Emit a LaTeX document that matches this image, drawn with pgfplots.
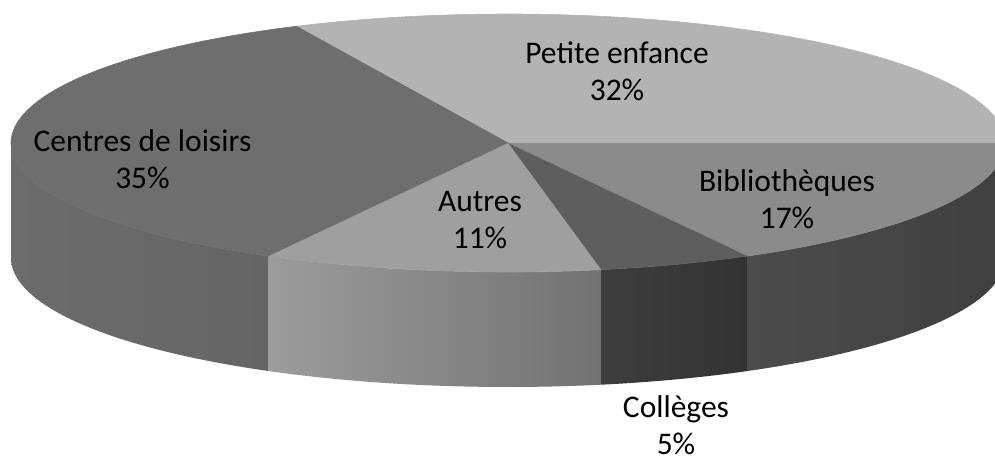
\documentclass[border=0pt]{standalone}
\usepackage{pgfplots}
\pgfplotsset{compat=1.18}
\usepackage{fontspec}
\setmainfont{Carlito}

\definecolor{topPetite}{HTML}{B3B3B3}
\definecolor{topBiblio}{HTML}{8B8B8B}
\definecolor{topColl}{HTML}{5E5E5E}
\definecolor{topAutres}{HTML}{9F9F9F}
\definecolor{topCentres}{HTML}{6E6E6E}
\definecolor{sideCentresL}{HTML}{6C6C6C}
\definecolor{sideCentresR}{HTML}{656565}
\definecolor{sideAutresL}{HTML}{9C9C9C}
\definecolor{sideAutresR}{HTML}{727272}
\definecolor{sideCollL}{HTML}{3D3D3D}
\definecolor{sideCollR}{HTML}{333333}
\definecolor{sideBiblioL}{HTML}{4C4C4C}
\definecolor{sideBiblioR}{HTML}{3F3F3F}

% shares in percent, clockwise from the first slice
\def\pPetite{32}
\def\pBiblio{17}
\def\pColl{5}
\def\pAutres{11}
\def\pCentres{35}

% geometry (1 axis unit = 1 pt)
\def\cx{508}\def\cy{319}\def\rx{497}\def\ry{129}\def\dep{115}

% top sector from angle #1 to #2
\newcommand{\sector}[3]{%
\addplot[draw=#3, line width=0.6pt, line join=round, fill=#3, variable=\s, samples at={0,1,...,60,100}]
 ({\cx+(\s<80)*\rx*cos(#1+(#2-#1)*\s/60)},
  {\cy+(\s<80)*\ry*sin(#1+(#2-#1)*\s/60)});
}
% side wall from angle #1 to #2
\newcommand{\side}[4]{%
\addplot[draw=none, left color=#3, right color=#4, variable=\s,
  samples at={0,1,...,60,100,101,...,160}]
 ({\cx+\rx*cos(#1+(#2-#1)*((\s<80)*\s+(\s>80)*(160-\s))/60)},
  {\cy+\ry*sin(#1+(#2-#1)*((\s<80)*\s+(\s>80)*(160-\s))/60)-(\s>80)*\dep});
}

\begin{document}
\begin{tikzpicture}
\useasboundingbox (0,0) rectangle (995pt,462pt);
\pgfmathsetmacro{\aA}{3.6*\pPetite}
\pgfmathsetmacro{\aB}{\aA-3.6*\pPetite}
\pgfmathsetmacro{\aC}{\aB-3.6*\pBiblio}
\pgfmathsetmacro{\aD}{\aC-3.6*\pColl}
\pgfmathsetmacro{\aE}{\aD-3.6*\pAutres}
\pgfmathsetmacro{\aF}{\aE-3.6*\pCentres}
\begin{axis}[at={(0,0)}, anchor=south west,
  width=995pt, height=462pt, scale only axis,
  xmin=0, xmax=995, ymin=0, ymax=462, hide axis]
% side walls (front)
\side{-180}{\aE}{sideCentresL}{sideCentresR}
\side{\aE}{\aD}{sideAutresL}{sideAutresR}
\side{\aD}{\aC}{sideCollL}{sideCollR}
\side{\aC}{\aB}{sideBiblioL}{sideBiblioR}
% top face
\sector{\aA}{\aB}{topPetite}
\sector{\aB}{\aC}{topBiblio}
\sector{\aC}{\aD}{topColl}
\sector{\aD}{\aE}{topAutres}
\sector{\aE}{\aF}{topCentres}
% labels
\begin{scope}[every node/.style={font=\fontsize{31.5}{37}\selectfont, align=center}]
\node at (axis cs:617,390.5) {Petite enfance\\32\%};
\node at (axis cs:142.5,302.5) {Centres de loisirs\\35\%};
\node at (axis cs:787,263) {Bibliothèques\\17\%};
\node at (axis cs:480,241.5) {Autres\\11\%};
\node at (axis cs:676,36.5) {Collèges\\5\%};
\end{scope}
\end{axis}
\end{tikzpicture}
\end{document}
